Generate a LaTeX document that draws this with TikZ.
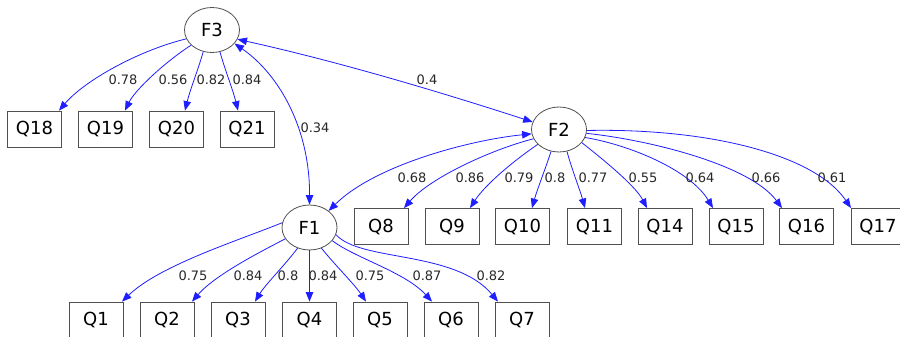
\documentclass[tikz,border=0pt]{standalone}
\usepackage{fontspec}
\setmainfont{DejaVu Sans}
\usetikzlibrary{shapes.geometric,arrows.meta}
\definecolor{edgeblue}{RGB}{30,30,255}
\definecolor{nodeline}{RGB}{80,80,80}
\definecolor{labgray}{RGB}{40,40,40}
\tikzset{
  lat/.style={ellipse,draw=nodeline,line width=0.8pt,minimum width=55pt,minimum height=45pt,inner sep=0pt,font=\fontsize{18}{21}\selectfont,text=black},
  obs/.style={rectangle,draw=nodeline,line width=0.8pt,minimum width=54pt,minimum height=36pt,inner sep=0pt,font=\fontsize{18}{21}\selectfont,text=black},
  ld/.style={draw=edgeblue,line width=0.8pt,-{Triangle[length=9.5pt,width=7.5pt]}},
  cov/.style={draw=edgeblue,line width=0.8pt,{Triangle[length=9.5pt,width=7.5pt]}-{Triangle[length=9.5pt,width=7.5pt]}},
  lab/.style={font=\fontsize{13}{15}\selectfont,text=labgray,inner sep=0pt}
}
\begin{document}
\begin{tikzpicture}[x=1pt,y=-1pt]
\useasboundingbox (0,0) rectangle (900,337);
\fill[white] (0,0) rectangle (900,337);
% latent nodes
\node[lat] (F3) at (212,30) {F3};
\node[lat] (F2) at (559,129.5) {F2};
\node[lat] (F1) at (309.5,227.5) {F1};
% F3 indicators
\node[obs] (Q18) at (34.5,129) {Q18};
\node[obs] (Q19) at (105.5,129) {Q19};
\node[obs] (Q20) at (176.5,129) {Q20};
\node[obs] (Q21) at (247,129) {Q21};
% F2 indicators
\node[obs] (Q8) at (381,226.5) {Q8};
\node[obs] (Q9) at (452,226.5) {Q9};
\node[obs] (Q10) at (522.5,226.5) {Q10};
\node[obs] (Q11) at (594.5,226.5) {Q11};
\node[obs] (Q14) at (665,226.5) {Q14};
\node[obs] (Q15) at (736,226.5) {Q15};
\node[obs] (Q16) at (806.5,226.5) {Q16};
\node[obs] (Q17) at (878,226.5) {Q17};
% F1 indicators
\node[obs] (Q1) at (96,320) {Q1};
\node[obs] (Q2) at (167,320) {Q2};
\node[obs] (Q3) at (238,320) {Q3};
\node[obs] (Q4) at (309.5,320) {Q4};
\node[obs] (Q5) at (380,320) {Q5};
\node[obs] (Q6) at (451,320) {Q6};
\node[obs] (Q7) at (522,320) {Q7};
% F3 loadings
\draw[ld] (F3.199) .. controls (140,50) and (85,80) .. ([xshift=24.5pt]Q18.north);
\draw[ld] (F3.216) .. controls (165,62) and (135,90) .. ([xshift=19.5pt]Q19.north);
\draw[ld] (F3.248) .. controls (198,70) and (190,90) .. ([xshift=8.5pt]Q20.north);
\draw[ld] (F3.290) .. controls (225,70) and (233,90) .. ([xshift=-9pt]Q21.north);
% covariances
\draw[cov] (F3.329) .. controls (280,75) and (310,130) .. (F1.north);
\draw[cov] (F3.340) .. controls (340,62) and (440,92) .. (F2.164);
\draw[cov] (F2.189) .. controls (470,140) and (375,165) .. (F1.41);
% F2 loadings
\draw[ld] (F2.200) .. controls (490,150) and (430,178) .. ([xshift=23pt]Q8.north);
\draw[ld] (F2.215) .. controls (512,162) and (485,185) .. ([xshift=18pt]Q9.north);
\draw[ld] (F2.250) .. controls (545,170) and (537,190) .. ([xshift=9.5pt]Q10.north);
\draw[ld] (F2.290) .. controls (572,170) and (580,190) .. ([xshift=-9.5pt]Q11.north);
\draw[ld] (F2.330) .. controls (600,157) and (635,185) .. ([xshift=-18pt]Q14.north);
\draw[ld] (F2.343) .. controls (630,145) and (690,170) .. ([xshift=-23pt]Q15.north);
\draw[ld] (F2.352) .. controls (650,140) and (750,165) .. ([xshift=-24.5pt]Q16.north);
\draw[ld] (F2.358) .. controls (710,128) and (815,155) .. ([xshift=-27pt]Q17.north);
% F1 loadings
\draw[ld] (F1.170) .. controls (240,240) and (160,265) .. ([xshift=26pt]Q1.north);
\draw[ld] (F1.205) .. controls (260,252) and (215,275) .. ([xshift=25pt]Q2.north);
\draw[ld] (F1.240) .. controls (285,265) and (265,285) .. ([xshift=17pt]Q3.north);
\draw[ld] (F1.south) -- (Q4.north);
\draw[ld] (F1.300) .. controls (335,265) and (355,285) .. ([xshift=-14pt]Q5.north);
\draw[ld] (F1.330) .. controls (355,258) and (405,272) .. ([xshift=-19pt]Q6.north);
\draw[ld] (F1.345) .. controls (360,262) and (455,250) .. ([xshift=-24pt]Q7.north);
% labels
\node[lab] (l18) at (123,80) {0.78};
\node[lab] (l19) at (173,80) {0.56};
\node[lab] (l20) at (211,80) {0.82};
\node[lab] (l21) at (247,80) {0.84};
\node[lab] (l31) at (315,128) {0.34};
\node[lab] (l32) at (427,80) {0.4};
\node[lab] (l12) at (412,178) {0.68};
\node[lab] (l8) at (470,178) {0.86};
\node[lab] (l9) at (519,178) {0.79};
\node[lab] (l10) at (555,178) {0.8};
\node[lab] (l11) at (593,178) {0.77};
\node[lab] (l14) at (643,178) {0.55};
\node[lab] (l15) at (700,178) {0.64};
\node[lab] (l16) at (766,178) {0.66};
\node[lab] (l17) at (832,178) {0.61};
\node[lab] (l1) at (193,276) {0.75};
\node[lab] (l2) at (248,276) {0.84};
\node[lab] (l3) at (288,276) {0.8};
\node[lab] (l4) at (323,276) {0.84};
\node[lab] (l5) at (370,276) {0.75};
\node[lab] (l6) at (427,276) {0.87};
\node[lab] (l7) at (491,276) {0.82};
\end{tikzpicture}
\end{document}
